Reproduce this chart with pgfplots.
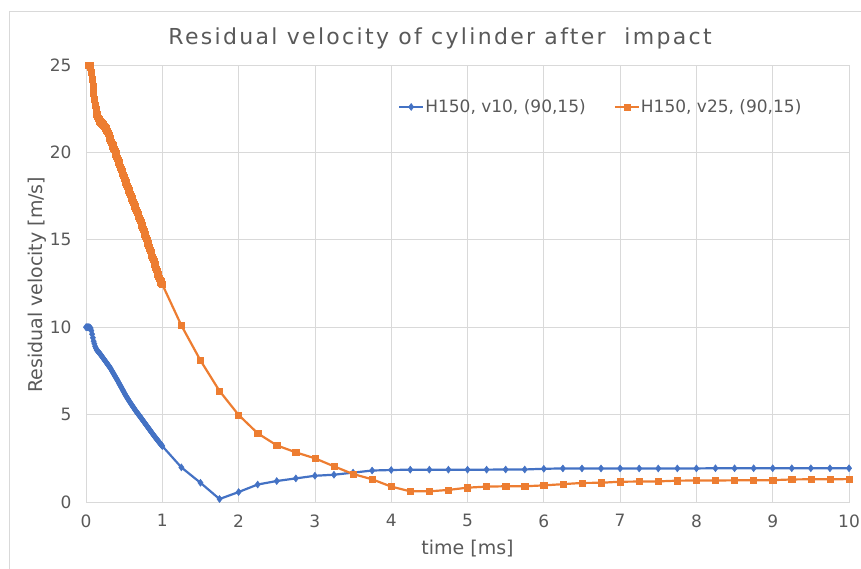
\documentclass[border=0pt]{standalone}
\usepackage{fontspec}
\setmainfont{DejaVu Sans}
\newfontfamily\titlefont{DejaVu Sans}[LetterSpace=10.5]
\usepackage{pgfplots}
\pgfplotsset{compat=1.18}
\definecolor{xlBlue}{HTML}{4472C4}
\definecolor{xlOrange}{HTML}{ED7D31}
\definecolor{xlGrid}{HTML}{D9D9D9}
\definecolor{xlText}{HTML}{595959}
\begin{document}
\begin{tikzpicture}[x=1pt,y=1pt]
\useasboundingbox (0,0) rectangle (861,569);
\clip (0,0) rectangle (861,569);
\draw[xlGrid, line width=0.8pt] (9,558) -- (9,-20) (9,558) -- (880,558);
\begin{axis}[
    at={(86pt,67pt)}, anchor=south west,
    scale only axis, width=763pt, height=437pt,
    xmin=0, xmax=10, ymin=0, ymax=25,
    xtick={0,1,...,10}, ytick={0,5,...,25},
    grid=major, grid style={xlGrid, line width=0.8pt},
    axis line style={xlGrid, line width=0.8pt},
    major tick length=0pt,
    /pgf/number format/assume math mode=true,
    tick label style={font=\fontsize{17}{20}\selectfont, text=xlText},
    xticklabel style={yshift=-9pt},
    yticklabel style={xshift=-11pt},
    xlabel={time [ms]}, ylabel={Residual velocity [m/s]},
    xlabel style={font=\fontsize{19}{22}\selectfont, text=xlText,
      at={(axis description cs:0.5,-0.1075)}, anchor=center},
    ylabel style={font=\fontsize{19}{22}\selectfont, text=xlText,
      at={(axis description cs:-0.0642,0.497)}, anchor=center},
    title={Residual velocity of cylinder after\ \ impact},
    title style={font=\titlefont\fontsize{22}{26}\selectfont, text=xlText,
      at={(axis description cs:0.464,1)}, anchor=base, yshift=14pt},
    legend style={at={(0.674,0.904)}, anchor=center, draw=none, fill=none,
      font=\fontsize{17}{20}\selectfont, text=xlText,
      legend columns=2, column sep=0pt,
      nodes={inner xsep=1pt},
      /tikz/every even column/.append style={column sep=27pt}},
    legend image code/.code={
      \draw[#1, mark=none] (0pt,0pt) -- (24pt,0pt);
      \draw[#1, only marks] plot coordinates {(12pt,0pt)};},
    clip=false,
]
% H150, v10: dense output up to 1 ms, then every 0.25 ms
\addplot[xlBlue, line width=2.2pt, mark=diamond*, mark size=3.5pt,
    mark options={solid, line width=0.5pt}]
  coordinates {
  (0.00,10.00)(0.01,10.00)(0.02,10.00)(0.03,10.00)(0.04,10.00)(0.05,9.98)
  (0.06,9.95)(0.07,9.80)(0.08,9.60)(0.09,9.40)(0.10,9.20)(0.11,9.05)
  (0.12,8.90)(0.13,8.80)(0.14,8.70)(0.15,8.65)(0.16,8.60)(0.17,8.55)
  (0.18,8.50)(0.19,8.44)(0.20,8.38)(0.21,8.32)(0.22,8.26)(0.23,8.20)
  (0.24,8.14)(0.25,8.08)(0.26,8.02)(0.27,7.96)(0.28,7.90)(0.29,7.84)
  (0.30,7.78)(0.31,7.72)(0.32,7.66)(0.33,7.58)(0.34,7.50)(0.35,7.43)
  (0.36,7.35)(0.37,7.28)(0.38,7.20)(0.39,7.13)(0.40,7.05)(0.41,6.98)
  (0.42,6.90)(0.43,6.82)(0.44,6.74)(0.45,6.66)(0.46,6.58)(0.47,6.50)
  (0.48,6.42)(0.49,6.34)(0.50,6.26)(0.51,6.18)(0.52,6.10)(0.53,6.03)
  (0.54,5.96)(0.55,5.89)(0.56,5.82)(0.57,5.75)(0.58,5.68)(0.59,5.62)
  (0.60,5.55)(0.61,5.49)(0.62,5.42)(0.63,5.36)(0.64,5.29)(0.65,5.23)
  (0.66,5.17)(0.67,5.11)(0.68,5.05)(0.69,5.00)(0.70,4.94)(0.71,4.88)
  (0.72,4.82)(0.73,4.76)(0.74,4.70)(0.75,4.64)(0.76,4.58)(0.77,4.52)
  (0.78,4.46)(0.79,4.40)(0.80,4.34)(0.81,4.28)(0.82,4.22)(0.83,4.16)
  (0.84,4.10)(0.85,4.04)(0.86,3.98)(0.87,3.92)(0.88,3.86)(0.89,3.80)
  (0.90,3.74)(0.91,3.69)(0.92,3.63)(0.93,3.58)(0.94,3.52)(0.95,3.47)
  (0.96,3.41)(0.97,3.36)(0.98,3.30)(0.99,3.25)(1.00,3.20)
  (1.25,1.98)(1.50,1.10)(1.75,0.17)(2.00,0.57)(2.25,1.00)(2.50,1.20)
  (2.75,1.35)(3.00,1.50)(3.25,1.56)(3.50,1.68)(3.75,1.80)(4.00,1.83)
  (4.25,1.85)(4.50,1.85)(4.75,1.85)(5.00,1.85)(5.25,1.85)(5.50,1.86)
  (5.75,1.86)(6.00,1.90)(6.25,1.92)(6.50,1.92)(6.75,1.92)(7.00,1.92)
  (7.25,1.92)(7.50,1.92)(7.75,1.92)(8.00,1.92)(8.25,1.93)(8.50,1.93)
  (8.75,1.93)(9.00,1.93)(9.25,1.93)(9.50,1.93)(9.75,1.93)(10.00,1.93)
  };
\addlegendentry{H150, v10, (90,15)}
% H150, v25
\addplot[xlOrange, line width=2.2pt, mark=square*, mark size=3.1pt,
    mark options={solid, line width=0.5pt}]
  coordinates {
  (0.03,25.00)(0.05,25.00)(0.06,24.90)(0.07,24.60)(0.08,24.20)(0.09,23.80)
  (0.10,23.40)(0.11,23.05)(0.12,22.70)(0.13,22.45)(0.14,22.20)(0.15,22.05)
  (0.16,21.95)(0.17,21.87)(0.18,21.80)(0.19,21.75)(0.20,21.70)(0.21,21.65)
  (0.22,21.60)(0.23,21.55)(0.24,21.50)(0.25,21.44)(0.26,21.38)(0.27,21.30)
  (0.28,21.20)(0.29,21.08)(0.30,20.95)(0.31,20.82)(0.32,20.70)(0.33,20.59)
  (0.34,20.48)(0.35,20.38)(0.36,20.27)(0.37,20.16)(0.38,20.05)(0.39,19.92)
  (0.40,19.80)(0.41,19.67)(0.42,19.55)(0.43,19.42)(0.44,19.30)(0.45,19.17)
  (0.46,19.05)(0.47,18.92)(0.48,18.80)(0.49,18.67)(0.50,18.55)(0.51,18.42)
  (0.52,18.30)(0.53,18.19)(0.54,18.08)(0.55,17.96)(0.56,17.85)(0.57,17.73)
  (0.58,17.62)(0.59,17.50)(0.60,17.38)(0.61,17.26)(0.62,17.15)(0.63,17.03)
  (0.64,16.92)(0.65,16.80)(0.66,16.68)(0.67,16.56)(0.68,16.45)(0.69,16.33)
  (0.70,16.22)(0.71,16.10)(0.72,15.97)(0.73,15.85)(0.74,15.72)(0.75,15.60)
  (0.76,15.47)(0.77,15.33)(0.78,15.20)(0.79,15.07)(0.80,14.95)(0.81,14.81)
  (0.82,14.68)(0.83,14.55)(0.84,14.42)(0.85,14.28)(0.86,14.15)(0.87,14.01)
  (0.88,13.88)(0.89,13.74)(0.90,13.60)(0.91,13.46)(0.92,13.33)(0.93,13.19)
  (0.94,13.05)(0.95,12.91)(0.96,12.78)(0.97,12.68)(0.98,12.60)(0.99,12.52)
  (1.00,12.45)
  (1.25,10.10)(1.50,8.10)(1.75,6.35)(2.00,4.98)(2.25,3.93)(2.50,3.24)
  (2.75,2.84)(3.00,2.50)(3.25,2.04)(3.50,1.60)(3.75,1.30)(4.00,0.88)
  (4.25,0.61)(4.50,0.61)(4.75,0.69)(5.00,0.82)(5.25,0.88)(5.50,0.90)
  (5.75,0.90)(6.00,0.95)(6.25,1.02)(6.50,1.09)(6.75,1.10)(7.00,1.16)
  (7.25,1.17)(7.50,1.18)(7.75,1.22)(8.00,1.23)(8.25,1.23)(8.50,1.24)
  (8.75,1.24)(9.00,1.25)(9.25,1.29)(9.50,1.30)(9.75,1.30)(10.00,1.31)
  };
\addlegendentry{H150, v25, (90,15)}
\end{axis}
\end{tikzpicture}
\end{document}
